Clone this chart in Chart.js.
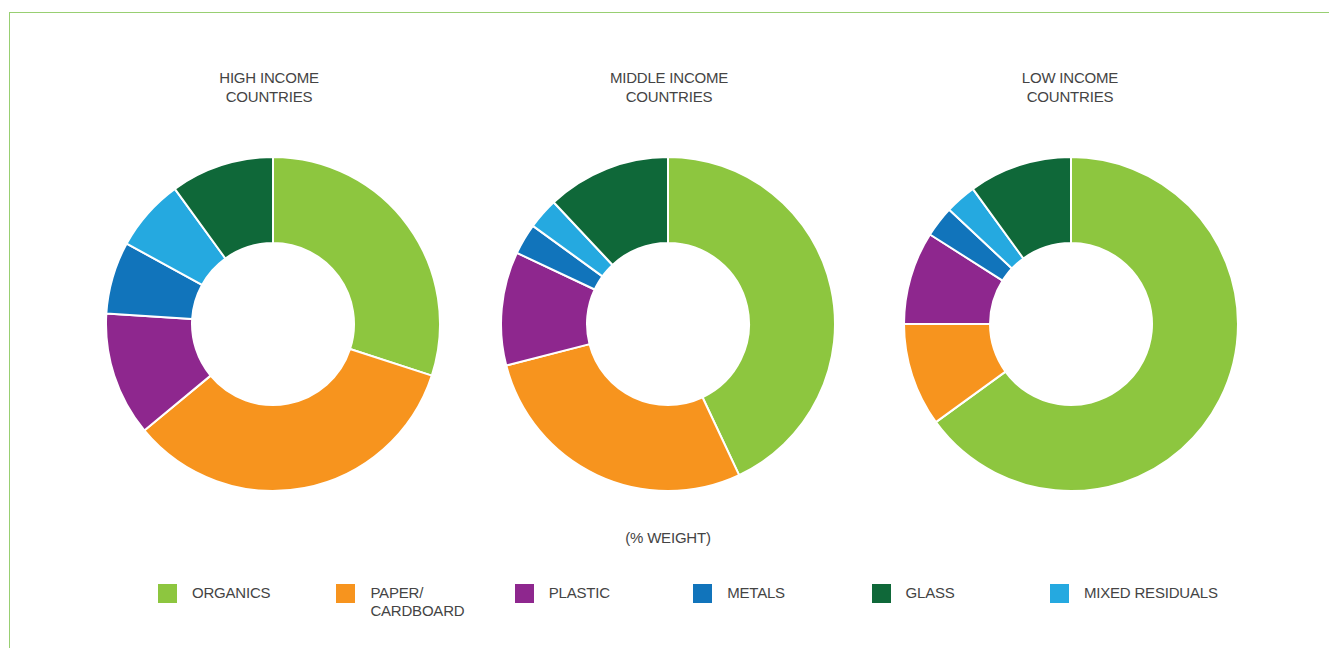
<!DOCTYPE html>
<html>
<head>
<meta charset="utf-8">
<script src="https://cdn.jsdelivr.net/npm/chart.js@4"></script>
<style>
  html, body { margin: 0; padding: 0; background: #fff; }
  body { width: 1329px; height: 648px; position: relative; overflow: hidden;
         font-family: "Liberation Sans", Arial, sans-serif; color: #444; }
  .frame { position: absolute; left: 8.5px; top: 12px; right: -10px; bottom: -10px;
           border-top: 1.5px solid #98cf72; border-left: 1.5px solid #98cf72; }
  .title { position: absolute; top: 68px; width: 240px; text-align: center;
           font-size: 15px; line-height: 19px; letter-spacing: -0.2px; }
  .pie { position: absolute; top: 155.5px; width: 336px; height: 336px; }
  .unit { position: absolute; left: 568px; width: 200px; top: 529px; text-align: center;
          font-size: 15px; line-height: 18px; letter-spacing: -0.2px; }
  .sw { position: absolute; top: 583.5px; width: 19px; height: 19px; }
  .lab { position: absolute; top: 584px; font-size: 15px; line-height: 18px;
         letter-spacing: -0.2px; white-space: pre; }
</style>
</head>
<body>
<div class="frame"></div>
<div id="titles"></div>
<canvas id="high" class="pie" style="left:104.5px"></canvas>
<canvas id="middle" class="pie" style="left:500px"></canvas>
<canvas id="low" class="pie" style="left:902.5px"></canvas>
<div class="unit">(% WEIGHT)</div>
<div id="legend"></div>
<script>
// slice order, clockwise from 12 o'clock
const categories = ['ORGANICS', 'PAPER/CARDBOARD', 'PLASTIC', 'METALS', 'MIXED RESIDUALS', 'GLASS'];
const colors = ['#8dc63f', '#f7941e', '#8e278e', '#1174bb', '#25a9e0', '#0f6839'];

const highIncome = [30, 34, 12, 7, 7, 10];
const middleIncome = [43, 28, 11, 3, 3, 12];
const lowIncome = [65, 10, 9, 3, 3, 10];

const chartTitles = ['HIGH INCOME\nCOUNTRIES', 'MIDDLE INCOME\nCOUNTRIES', 'LOW INCOME\nCOUNTRIES'];

// legend shows glass before mixed residuals
const legendOrder = [0, 1, 2, 3, 5, 4];
const legendNames = ['ORGANICS', 'PAPER/\nCARDBOARD', 'PLASTIC', 'METALS', 'MIXED RESIDUALS', 'GLASS'];

const titleCenters = [269, 669, 1070];
const titlesEl = document.getElementById('titles');
chartTitles.forEach(function (t, i) {
  const d = document.createElement('div');
  d.className = 'title';
  d.style.left = (titleCenters[i] - 120) + 'px';
  d.innerHTML = t.replace('\n', '<br>');
  titlesEl.appendChild(d);
});

const legendEl = document.getElementById('legend');
legendOrder.forEach(function (idx, i) {
  const x = 158 + i * 178.4;
  const sw = document.createElement('div');
  sw.className = 'sw';
  sw.style.left = x + 'px';
  sw.style.background = colors[idx];
  legendEl.appendChild(sw);
  const lab = document.createElement('div');
  lab.className = 'lab';
  lab.style.left = (x + 34) + 'px';
  lab.textContent = legendNames[idx];
  legendEl.appendChild(lab);
});

function makeDoughnut(id, values) {
  return new Chart(document.getElementById(id).getContext('2d'), {
    type: 'doughnut',
    data: {
      labels: categories,
      datasets: [
        {
          data: values,
          backgroundColor: colors,
          borderColor: '#ffffff',
          borderWidth: 2,
          hoverOffset: 0
        }
      ]
    },
    options: {
      responsive: false,
      animation: false,
      cutout: '48.5%',
      layout: { padding: 0 },
      plugins: {
        legend: { display: false },
        tooltip: { enabled: false }
      }
    }
  });
}

var highChart = makeDoughnut('high', highIncome);
var middleChart = makeDoughnut('middle', middleIncome);
var lowChart = makeDoughnut('low', lowIncome);
</script>
</body>
</html>
